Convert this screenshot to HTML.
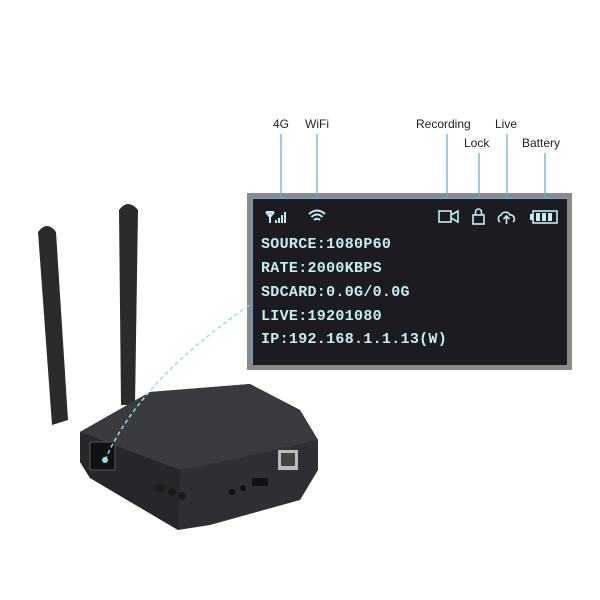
<!DOCTYPE html>
<html><head><style>
body{margin:0;width:600px;height:600px;background:#fff;position:relative;overflow:hidden;font-family:"Liberation Sans",sans-serif}
.lbl{position:absolute;font-size:12px;color:#222}
.scr{position:absolute;left:247px;top:193px;width:325px;height:177px;background:#8a8a8a}
.in{position:absolute;left:5px;top:5px;right:5px;bottom:5px;background:#1c1b22;border-top:1px solid #5aa8d8;border-left:1px solid #5aa8d8}
.t{position:absolute;left:8px;font-family:"Liberation Mono",monospace;font-weight:bold;font-size:15px;color:#c4eef2;letter-spacing:0.3px}
</style></head><body>
<div class="lbl" style="left:273px;top:117px">4G</div>
<div class="lbl" style="left:305px;top:117px">WiFi</div>
<div class="lbl" style="left:416px;top:117px">Recording</div>
<div class="lbl" style="left:464px;top:136px">Lock</div>
<div class="lbl" style="left:495px;top:117px">Live</div>
<div class="lbl" style="left:522px;top:136px">Battery</div>
<svg width="600" height="600" style="position:absolute;left:0;top:0">
<g stroke="#5aa8d8" stroke-width="1.2">
<line x1="281" y1="134" x2="281" y2="198"/><line x1="317" y1="134" x2="317" y2="198"/>
<line x1="447" y1="134" x2="447" y2="198"/><line x1="479" y1="153" x2="479" y2="198"/>
<line x1="507" y1="134" x2="507" y2="198"/><line x1="545" y1="153" x2="545" y2="198"/>
</g>
<path d="M38,232 Q47,220 56,232 L68,420 L52,425 Z" fill="#2a2b2d"/>
<path d="M119,210 Q128,198 138,210 L135,405 L121,405 Z" fill="#2a2b2d"/>
<polygon points="80,432 150,392 250,384 300,410 318,440 318,470 300,500 210,525 178,530 90,478 80,462" fill="#2e2f32"/>
<polygon points="80,432 150,392 250,384 300,410 318,440 230,460 180,470" fill="#3a3b3e"/>
<polygon points="80,432 180,470 178,530 90,478 80,462" fill="#26272a"/>
<rect x="90" y="442" width="25" height="28" fill="#111" stroke="#555"/>
<rect x="278" y="450" width="20" height="20" fill="#bbb"/>
<rect x="281" y="453" width="14" height="13" fill="#444"/>
<rect x="252" y="478" width="16" height="8" fill="#111"/>
<circle cx="160" cy="488" r="4" fill="#1a1a1a"/><circle cx="172" cy="492" r="4" fill="#1a1a1a"/><circle cx="182" cy="496" r="4" fill="#1a1a1a"/>
<circle cx="232" cy="492" r="3" fill="#111"/><circle cx="243" cy="488" r="3" fill="#111"/>
<path d="M105,460 Q140,380 250,305" stroke="#8fe0ea" stroke-width="1.5" fill="none" stroke-dasharray="4,3"/>
<circle cx="105" cy="460" r="3" fill="#8fe0ea"/>
<g stroke="#c4eef2" stroke-width="2" fill="none">
<!-- 4G -->
<path d="M266,212 L274,212 M270,212 L270,223 M266,212 L270,217 L274,212"/>
<line x1="276" y1="220" x2="276" y2="223"/><line x1="279" y1="218" x2="279" y2="223"/><line x1="282" y1="215" x2="282" y2="223"/><line x1="285" y1="212" x2="285" y2="223"/>
<!-- wifi -->
<path d="M309,214 Q317,207 325,214 M311.5,217 Q317,212 322.5,217 M314,220 Q317,217.5 320,220"/>
<!-- camera -->
<rect x="439" y="211" width="12" height="11" stroke-width="1.6"/><path d="M451,215 L458,211 L458,222 L451,218" stroke-width="1.6"/>
<!-- lock -->
<rect x="473" y="215" width="11" height="9" stroke-width="1.6"/><path d="M475.5,215 v-3 a3,3 0 0 1 6,0 v3" stroke-width="1.6"/>
<!-- cloud -->
<path d="M500,222 a4,4 0 0 1 1,-7 a5,5 0 0 1 9,0 a4,4 0 0 1 3,7 M506.5,224 v-8 M503.5,219 l3,-3 l3,3" stroke-width="1.6"/>
<!-- battery -->
<rect x="533" y="211" width="24" height="12" stroke-width="1.6"/>
</g>
<rect x="530" y="214" width="3" height="6" fill="#c4eef2"/>
<rect x="536" y="213" width="4" height="8" fill="#c4eef2"/><rect x="542" y="213" width="4" height="8" fill="#c4eef2"/><rect x="548" y="213" width="4" height="8" fill="#c4eef2"/>
</svg>
<div class="scr" style="z-index:-1"><div class="in">
<div class="t" style="top:37px">SOURCE:1080P60</div>
<div class="t" style="top:61px">RATE:2000KBPS</div>
<div class="t" style="top:85px">SDCARD:0.0G/0.0G</div>
<div class="t" style="top:109px">LIVE:19201080</div>
<div class="t" style="top:132px">IP:192.168.1.1.13(W)</div>
</div></div>
</body></html>
